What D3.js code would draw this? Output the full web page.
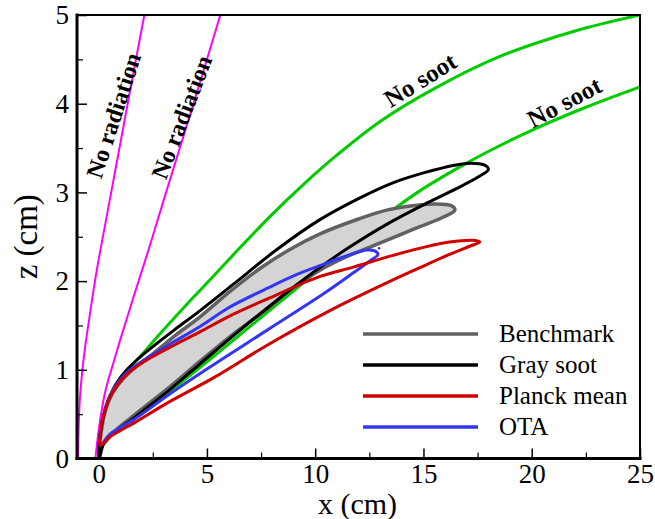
<!DOCTYPE html>
<html>
<head>
<meta charset="utf-8">
<script src="https://cdn.jsdelivr.net/npm/d3@7"></script>
<style>
  html, body { margin: 0; padding: 0; background: #fff; }
  svg text { font-family: 'Liberation Serif', 'Times New Roman', serif; fill: #000; }
</style>
</head>
<body>
<div id="chart"></div>
<script>
// flame contours, (x, z) in cm
const noRadiationA = [[-0.95, 0], [-0.93, 0.3], [-0.87, 0.66], [-0.75, 1.0], [-0.6, 1.3], [-0.42, 1.6], [-0.17, 2.0], [0.08, 2.35], [0.58, 3], [1.34, 4], [2.11, 5]]
const noRadiationB = [[-0.15, 0], [-0.06, 0.2], [0.08, 0.45], [0.3, 0.75], [0.72, 1.11], [1.0, 1.34], [1.65, 1.85], [2.3, 2.35], [3.0, 2.91], [4.38, 4], [5.62, 5]]
const noSootA = [[0, 0], [0.1, 0.3], [0.3, 0.5], [0.6, 0.72], [1.0, 0.89], [1.5, 1.04], [2.1, 1.2], [2.7, 1.37], [4, 1.72], [5.2, 2.03], [6.5, 2.37], [8, 2.75], [9.5, 3.1], [11, 3.42], [13, 3.8], [15.5, 4.17], [18.5, 4.53], [22, 4.82], [25, 5]]
const noSootB = [[0, 0], [0.3, 0.2], [1.7, 0.47], [3.3, 0.76], [4.7, 1.03], [6.2, 1.33], [7.8, 1.65], [9.2, 1.93], [10.5, 2.2], [12, 2.5], [13.46, 2.78], [14.85, 3.02], [16.7, 3.29], [17.9, 3.45], [20, 3.7], [22.5, 3.96], [25, 4.19]]

// closed loops: lower edge out to the tip, upper edge back
const benchmark = [
  [0.1, 0.14], [0.7, 0.3], [1.7, 0.5], [3.4, 0.83], [4.7, 1.1], [6.2, 1.4], [7.8, 1.69], [9, 1.93], [10.2, 2.12], [11.5, 2.28], [12.5, 2.38], [13.8, 2.51], [14.8, 2.61], [15.9, 2.72], [16.45, 2.8],
  [16.3, 2.85], [15.5, 2.87], [14.5, 2.85], [13.3, 2.8], [12, 2.7], [10.2, 2.53], [8.85, 2.36], [7.5, 2.15], [6, 1.87], [4.7, 1.6], [3.5, 1.38], [2.5, 1.18], [1.7, 1.03], [1.1, 0.89], [0.65, 0.74], [0.35, 0.57], [0.15, 0.35]
]
const graySoot = [
  [0.03, 0.0], [0.3, 0.2], [1.7, 0.47], [3.4, 0.8], [4.7, 1.07], [6.2, 1.38], [7.8, 1.7], [9, 1.93], [10.2, 2.15], [11.5, 2.37], [13.3, 2.64], [15, 2.86], [16.5, 3.04], [17.5, 3.17], [18.0, 3.26],
  [17.8, 3.31], [17.2, 3.33], [16.5, 3.31], [15, 3.22], [13.5, 3.1], [12, 2.93], [10.2, 2.69], [8.2, 2.35], [6.3, 1.98], [4.7, 1.67], [3.5, 1.45], [2.6, 1.28], [1.9, 1.14], [1.3, 1.0], [0.8, 0.84], [0.45, 0.66], [0.22, 0.48], [0.08, 0.28], [0.0, 0.1]
]
const planckMean = [
  [0.08, 0.15], [0.5, 0.24], [1.7, 0.41], [3.2, 0.63], [5.38, 0.92], [7.8, 1.28], [10.7, 1.67], [13.3, 1.98], [15, 2.17], [16.2, 2.3], [17.1, 2.39], [17.6, 2.44],
  [17.3, 2.46], [16.2, 2.44], [15, 2.38], [13.3, 2.27], [11.8, 2.16], [10.2, 2.05], [7.8, 1.8], [6, 1.6], [4.7, 1.43], [3.5, 1.28], [2.15, 1.1], [1.4, 0.97], [0.9, 0.84], [0.5, 0.68], [0.22, 0.48], [0.08, 0.3]
]
const ota = [
  [0.08, 0.15], [0.5, 0.27], [1.7, 0.45], [3.3, 0.73], [5.07, 1.02], [7.8, 1.45], [10.4, 1.86], [11.8, 2.1], [12.6, 2.24], [12.9, 2.3],
  [12.75, 2.34], [12.4, 2.35], [11.5, 2.29], [10.5, 2.2], [9, 2.06], [7.8, 1.92], [6, 1.7], [4.7, 1.49], [3.3, 1.29], [2.1, 1.11], [1.4, 0.99], [0.9, 0.86], [0.5, 0.7], [0.22, 0.49], [0.07, 0.3]
]
const otaSpeck = [[12.95, 2.37]]

const xTicks = [0, 5, 10, 15, 20, 25]
const xMinor = [2.5, 7.5, 12.5, 17.5, 22.5]
const zTicks = [0, 1, 2, 3, 4, 5]
const zMinor = [0.5, 1.5, 2.5, 3.5, 4.5]

const legendNames = ['Benchmark', 'Gray soot', 'Planck mean', 'OTA']
const legendColors = ['#616161', '#000000', '#d00000', '#3535f5']

const curveLabels = [
  { text: 'No radiation', at: [0.68, 3.87], angle: -72, size: 24 },
  { text: 'No radiation', at: [3.82, 3.85], angle: -69, size: 24 },
  { text: 'No soot', at: [14.84, 4.27], angle: -32, size: 25 },
  { text: 'No soot', at: [21.5, 4.02], angle: -28, size: 25 },
]

const W = 655
const H = 519
const margin = { TOP: 15, RIGHT: 15, BOTTOM: 60.5, LEFT: 77 }

const svg = d3.select('#chart').append('svg').attr('width', W).attr('height', H)

const x = d3.scaleLinear().domain([-1, 25]).range([margin.LEFT, W - margin.RIGHT])
const y = d3.scaleLinear().domain([0, 5]).range([H - margin.BOTTOM, margin.TOP])

const line = d3.line().x(d => x(d[0])).y(d => y(d[1])).curve(d3.curveCatmullRom.alpha(0.5))
const loop = d3.line().x(d => x(d[0])).y(d => y(d[1])).curve(d3.curveCatmullRomClosed.alpha(0.5))

const plot = svg.append('g')

plot.append('clipPath').attr('id', 'clip')
  .append('rect')
  .attr('x', x(-1)).attr('y', y(5))
  .attr('width', x(25) - x(-1)).attr('height', y(0) - y(5))

const marks = plot.append('g').attr('clip-path', 'url(#clip)')

const openCurve = (data, color, width) =>
  marks.append('path').datum(data)
    .attr('d', line)
    .attr('fill', 'none')
    .attr('stroke', color)
    .attr('stroke-width', width)
    .attr('stroke-linejoin', 'round')

openCurve(noSootA, '#00cc00', 3)
openCurve(noSootB, '#00cc00', 3)
openCurve(noRadiationA, '#ff00ff', 2)
openCurve(noRadiationB, '#ff00ff', 2)

marks.append('path').datum(benchmark)
  .attr('d', loop)
  .attr('fill', '#d4d4d4')
  .attr('stroke', legendColors[0])
  .attr('stroke-width', 3.5)
  .attr('stroke-linejoin', 'round')

const closedCurve = (data, color) =>
  marks.append('path').datum(data)
    .attr('d', loop)
    .attr('fill', 'none')
    .attr('stroke', color)
    .attr('stroke-width', 3)
    .attr('stroke-linejoin', 'round')

closedCurve(graySoot, legendColors[1])
closedCurve(ota, legendColors[3])
closedCurve(planckMean, legendColors[2])

marks.selectAll('.speck').data(otaSpeck).join('circle')
  .attr('class', 'speck')
  .attr('cx', d => x(d[0])).attr('cy', d => y(d[1]))
  .attr('r', 1.3)
  .attr('fill', legendColors[3])

// curve annotations
svg.append('g').selectAll('text').data(curveLabels).join('text')
  .attr('transform', d => `translate(${x(d.at[0])},${y(d.at[1])}) rotate(${d.angle})`)
  .attr('text-anchor', 'middle')
  .attr('dy', '0.35em')
  .style('font-size', d => d.size + 'px')
  .style('font-weight', 'bold')
  .text(d => d.text)

// axes, ticks pointing inward
const xAxis = g => g
  .attr('transform', `translate(0,${y(0)})`)
  .call(d3.axisBottom(x).tickValues(xTicks).tickSizeInner(-10).tickSizeOuter(0).tickPadding(5).tickFormat(d3.format('d')))
  .call(g => g.select('.domain').remove())
  .call(g => g.selectAll('line').attr('stroke-width', 1.5))
  .call(g => g.selectAll('text').style('font-size', '27px').style('font-family', 'Liberation Serif'))

const xMinorAxis = g => g
  .attr('transform', `translate(0,${y(0)})`)
  .call(d3.axisBottom(x).tickValues(xMinor).tickSizeInner(-6).tickSizeOuter(0).tickFormat(''))
  .call(g => g.select('.domain').remove())
  .call(g => g.selectAll('line').attr('stroke-width', 1.2))

const yAxis = g => g
  .attr('transform', `translate(${x(-1)},0)`)
  .call(d3.axisLeft(y).tickValues(zTicks).tickSizeInner(-10).tickSizeOuter(0).tickPadding(8).tickFormat(d3.format('d')))
  .call(g => g.select('.domain').remove())
  .call(g => g.selectAll('line').attr('stroke-width', 1.5))
  .call(g => g.selectAll('text').style('font-size', '27px').style('font-family', 'Liberation Serif'))

const yMinorAxis = g => g
  .attr('transform', `translate(${x(-1)},0)`)
  .call(d3.axisLeft(y).tickValues(zMinor).tickSizeInner(-6).tickSizeOuter(0).tickFormat(''))
  .call(g => g.select('.domain').remove())
  .call(g => g.selectAll('line').attr('stroke-width', 1.2))

svg.append('g').call(xAxis)
svg.append('g').call(xMinorAxis)
svg.append('g').call(yAxis)
svg.append('g').call(yMinorAxis)

// frame
const frame = svg.append('g').attr('stroke', '#000').attr('stroke-linecap', 'square')
frame.append('line').attr('x1', x(-1)).attr('x2', x(25)).attr('y1', y(5)).attr('y2', y(5)).attr('stroke-width', 2)
frame.append('line').attr('x1', x(25)).attr('x2', x(25)).attr('y1', y(5)).attr('y2', y(0)).attr('stroke-width', 2)
frame.append('line').attr('x1', x(-1)).attr('x2', x(25)).attr('y1', y(0)).attr('y2', y(0)).attr('stroke-width', 3)
frame.append('line').attr('x1', x(-1)).attr('x2', x(-1)).attr('y1', y(5)).attr('y2', y(0)).attr('stroke-width', 3)

// axis titles
svg.append('text')
  .attr('x', (x(-1) + x(25)) / 2 - 1)
  .attr('y', 514)
  .attr('text-anchor', 'middle')
  .style('font-size', '30px')
  .text('x (cm)')

svg.append('text')
  .attr('transform', `translate(37,${(y(0) + y(5)) / 2}) rotate(-90)`)
  .attr('text-anchor', 'middle')
  .style('font-size', '33px')
  .text('z (cm)')

// legend
const legend = svg.append('g')
  .selectAll('g')
  .data(legendNames)
  .join('g')
  .attr('transform', (d, i) => `translate(363,${334 + i * 31})`)

legend.append('line')
  .attr('x1', 0).attr('x2', 115)
  .attr('stroke', (d, i) => legendColors[i])
  .attr('stroke-width', 3.5)

legend.append('text')
  .attr('x', 136)
  .attr('y', 8)
  .style('font-size', '25px')
  .text(d => d)
</script>
</body>
</html>
